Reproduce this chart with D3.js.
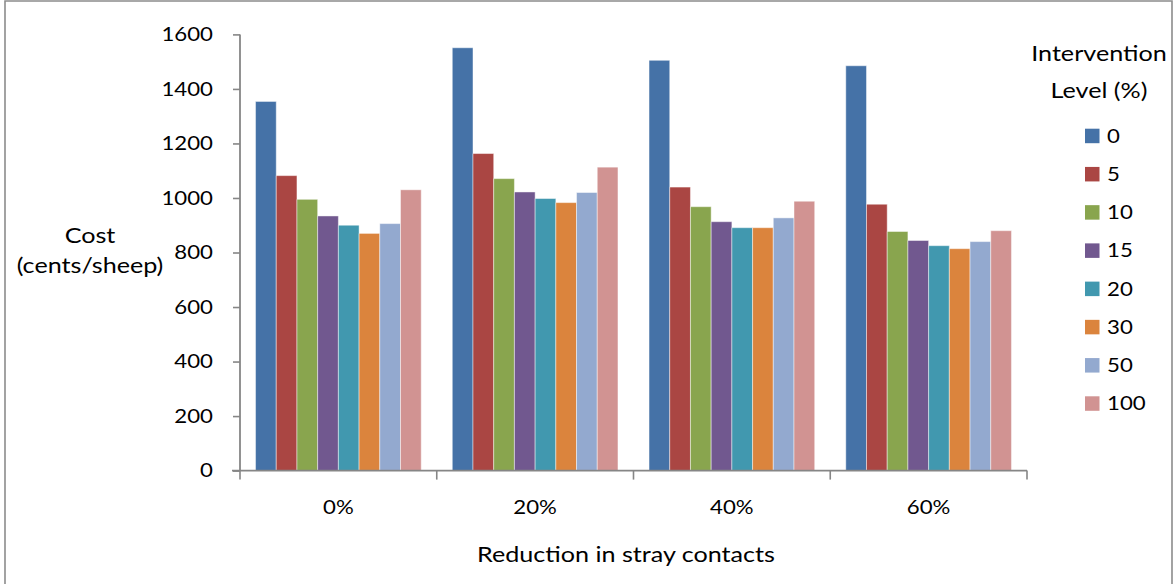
<!DOCTYPE html>
<html>
<head>
<meta charset="utf-8">
<script src="https://cdn.jsdelivr.net/npm/d3@7/dist/d3.min.js"></script>
<style>
  html, body { margin: 0; padding: 0; background: #ffffff; }
  svg { display: block; }
  text { font-family: Lato, "Open Sans", sans-serif; fill: #000; }
</style>
</head>
<body>
<script>
// Reduction in stray contacts (x categories)
const categories = ["0%", "20%", "40%", "60%"];
// Intervention levels (%) — one series each
const levels = ["0", "5", "10", "15", "20", "30", "50", "100"];
// Cost (cents/sheep) for each intervention level across the categories
const level0   = [1354, 1551, 1505, 1485];
const level5   = [1082, 1163, 1040, 977];
const level10  = [995, 1071, 968, 877];
const level15  = [934, 1022, 913, 844];
const level20  = [900, 998, 891, 825];
const level30  = [870, 983, 891, 814];
const level50  = [906, 1020, 927, 840];
const level100 = [1030, 1113, 988, 880];
const yTicks = [0, 200, 400, 600, 800, 1000, 1200, 1400, 1600];

const seriesValues = [level0, level5, level10, level15, level20, level30, level50, level100];
const colors = ["#4572A7", "#AA4643", "#89A54E", "#71588F", "#4198AF", "#DB843D", "#93A9CF", "#D19392"];

const W = 1174, H = 584;
// Text is rendered slightly wide; the whole drawing uses a horizontal stretch
const SX = 1.17;
const px = v => v / SX;   // convert a page x-position into drawing units
const numSize = 19;       // digits and tick labels
const wordSize = 21.5;    // titles and legend heading

const svg = d3.select("body").append("svg").attr("width", W).attr("height", H);
const root = svg.append("g").attr("transform", `scale(${SX},1)`);

// outer frame
root.append("rect")
  .attr("x", px(5)).attr("y", 1)
  .attr("width", px(1172) - px(5)).attr("height", H + 10)
  .attr("fill", "none").attr("stroke", "#8c8c8c").attr("stroke-width", 1.6)
  .attr("vector-effect", "non-scaling-stroke");

const plot = { left: px(240), right: px(1027), top: 34.4, bottom: 470.6 };

const x = d3.scaleBand().domain(categories).range([plot.left, plot.right]).paddingInner(0).paddingOuter(0);
const bw = x.bandwidth();
const gap = bw * 1.5 / 9.5;
const xs = d3.scaleBand().domain(levels).range([gap / 2, bw - gap / 2]).padding(0);
const y = d3.scaleLinear().domain([0, 1600]).range([plot.bottom, plot.top]);

// bars
const groups = root.append("g").selectAll("g").data(categories).join("g")
  .attr("transform", c => `translate(${x(c)},0)`);
groups.selectAll("rect")
  .data((c, ci) => levels.map((l, li) => ({ level: l, li, value: seriesValues[li][ci] })))
  .join("rect")
  .attr("x", d => xs(d.level))
  .attr("width", xs.bandwidth())
  .attr("y", d => y(d.value))
  .attr("height", d => y(0) - y(d.value))
  .attr("fill", d => colors[d.li])
  .attr("stroke", "rgba(255,255,255,0.45)")
  .attr("stroke-width", 1)
  .attr("vector-effect", "non-scaling-stroke");

const axisColor = "#868686";

// y axis
const yAxis = root.append("g").attr("transform", `translate(${plot.left},0)`)
  .call(d3.axisLeft(y).tickValues(yTicks).tickSize(px(7)).tickPadding(px(20)).tickFormat(d3.format("d")));
yAxis.select(".domain").remove();
yAxis.selectAll(".tick line").attr("stroke", axisColor).attr("stroke-width", 1.6).attr("vector-effect", "non-scaling-stroke");
yAxis.selectAll(".tick text").attr("font-size", numSize).attr("font-family", "Lato, sans-serif").attr("fill", "#000");
yAxis.append("line").attr("x1", 0).attr("x2", 0).attr("y1", y(1600)).attr("y2", y(0))
  .attr("stroke", axisColor).attr("stroke-width", 1.8).attr("vector-effect", "non-scaling-stroke");

// x axis: baseline and category boundary ticks
const xAxis = root.append("g");
xAxis.append("line")
  .attr("x1", plot.left - px(8)).attr("x2", plot.right)
  .attr("y1", y(0)).attr("y2", y(0))
  .attr("stroke", axisColor).attr("stroke-width", 1.8).attr("vector-effect", "non-scaling-stroke");
const bounds = categories.map(c => x(c)).concat([x(categories[categories.length - 1]) + bw]);
xAxis.selectAll("line.b").data(bounds).join("line").attr("class", "b")
  .attr("x1", d => d).attr("x2", d => d)
  .attr("y1", y(0)).attr("y2", y(0) + 9)
  .attr("stroke", axisColor).attr("stroke-width", 1.6).attr("vector-effect", "non-scaling-stroke");
xAxis.selectAll("text").data(categories).join("text")
  .attr("x", c => x(c) + bw / 2).attr("y", 514)
  .attr("text-anchor", "middle").attr("font-size", numSize)
  .text(c => c);

// axis titles
root.append("text").attr("x", px(626)).attr("y", 562).attr("font-size", wordSize)
  .attr("text-anchor", "middle").text("Reduction in stray contacts");
const yt = root.append("text").attr("font-size", wordSize).attr("text-anchor", "middle");
yt.append("tspan").attr("x", px(90)).attr("y", 243).text("Cost");
yt.append("tspan").attr("x", px(90)).attr("y", 273).text("(cents/sheep)");

// legend
const lt = root.append("text").attr("font-size", wordSize).attr("text-anchor", "middle");
lt.append("tspan").attr("x", px(1099)).attr("y", 61).text("Intervention");
lt.append("tspan").attr("x", px(1099)).attr("y", 98).text("Level (%)");

const legendY = d3.scalePoint().domain(levels).range([135.7, 403.3]);
const li = root.append("g").selectAll("g").data(levels).join("g");
li.append("rect")
  .attr("x", px(1085)).attr("y", d => legendY(d) - 7)
  .attr("width", px(14.5)).attr("height", 14.5)
  .attr("fill", (d, i) => colors[i]);
li.append("text")
  .attr("x", px(1107)).attr("y", d => legendY(d) + 7)
  .attr("font-size", numSize).text(d => d);
</script>
</body>
</html>
